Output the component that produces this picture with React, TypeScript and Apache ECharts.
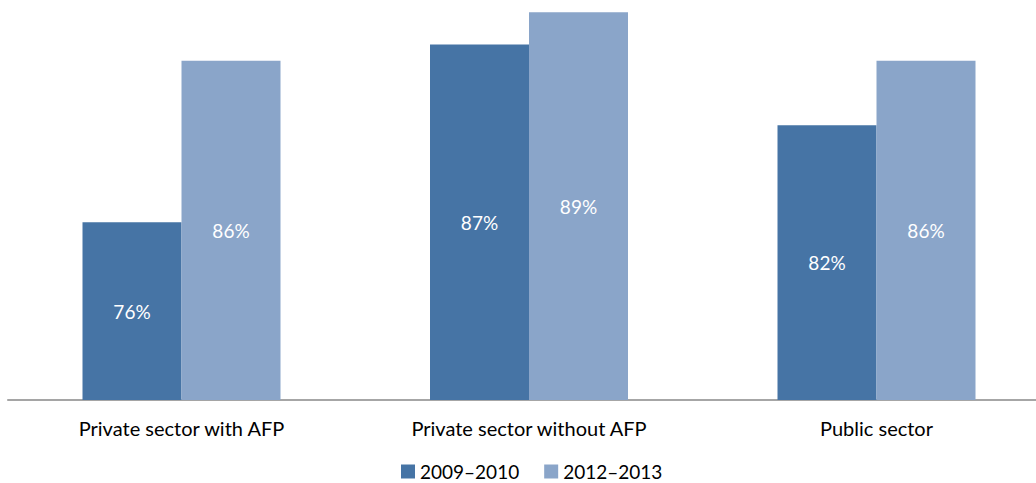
import React, { useEffect, useRef } from "react";
import * as echarts from "echarts";

const categories = ["Private sector with AFP", "Private sector without AFP", "Public sector"];
const series2009 = [76, 87, 82];
const series2012 = [86, 89, 86];
const seriesNames = ["2009–2010", "2012–2013"];

const FONT = "Lato, 'Open Sans', sans-serif";

export default function App() {
  const ref = useRef<HTMLDivElement>(null);
  useEffect(() => {
    document.body.style.margin = "0";
    const chart = echarts.init(ref.current!, null, { renderer: "svg" });
    const label = {
      show: true,
      position: "inside" as const,
      color: "#ffffff",
      fontSize: 19,
      fontFamily: FONT,
      formatter: (p: any) => `${p.value}%`,
    };
    chart.setOption({
      animation: false,
      grid: { left: 7.75, width: 1042.5, top: 0, height: 404, containLabel: false },
      legend: {
        top: 461,
        left: 396,
        icon: "rect",
        itemWidth: 14,
        itemHeight: 14,
        itemGap: 25,
        textStyle: { fontSize: 19, lineHeight: 16, fontFamily: FONT, color: "#000" },
        data: seriesNames,
      },
      xAxis: {
        type: "category",
        data: categories,
        axisLine: { show: true, lineStyle: { color: "#888888", width: 1.5 } },
        axisTick: { show: false },
        axisLabel: { color: "#000", fontSize: 20, fontFamily: FONT, margin: 18, interval: 0 },
      },
      yAxis: {
        type: "value",
        min: 65,
        max: 90,
        show: false,
        splitLine: { show: false },
      },
      series: [
        {
          name: seriesNames[0],
          type: "bar",
          data: series2009,
          barWidth: 99,
          barGap: "0%",
          itemStyle: { color: "#4674A5" },
          label,
        },
        {
          name: seriesNames[1],
          type: "bar",
          data: series2012,
          barWidth: 99,
          barGap: "0%",
          itemStyle: { color: "#8AA5C9" },
          label,
        },
      ],
    });
    return () => chart.dispose();
  }, []);
  return (
    <div style={{ width: 1036, height: 483, overflow: "hidden", position: "relative" }}>
      <div ref={ref} style={{ position: "absolute", left: 0, top: -4, width: 1051, height: 488 }} />
    </div>
  );
}
